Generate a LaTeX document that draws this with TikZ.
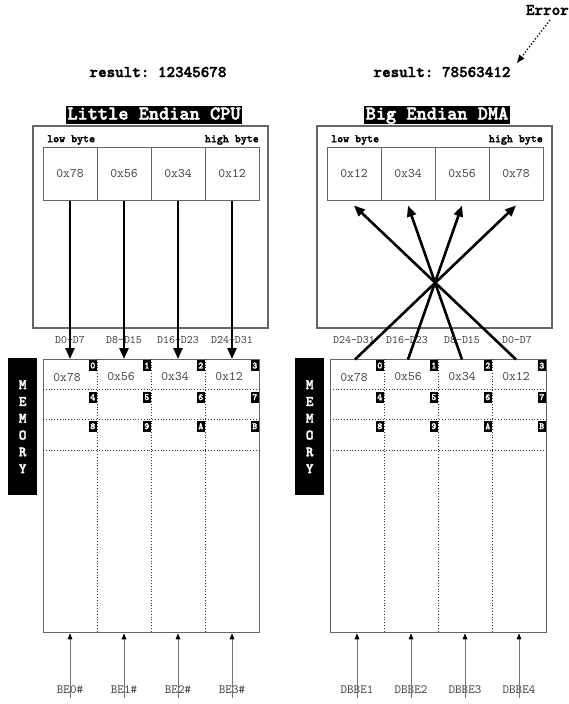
\documentclass[tikz,border=0pt]{standalone}
\usepackage{fontspec}
\setmonofont{lmmono10-regular.otf}[BoldFont=lmmonolt10-bold.otf,BoldFeatures={FakeBold=2.2}]
\usetikzlibrary{arrows.meta}
\definecolor{edge}{gray}{0.4}
\definecolor{txt}{gray}{0.25}
\begin{document}
\begin{tikzpicture}[x=1pt,y=-1pt,font=\ttfamily,
  outer/.style={draw=edge,line width=1.4pt},
  cell/.style={draw=edge,line width=1pt,minimum width=54pt,minimum height=53pt,inner sep=0pt,
    font=\ttfamily\fontsize{13}{13}\selectfont,text=txt},
  title/.style={fill=black,text=white,font=\ttfamily\bfseries\fontsize{19.4}{19.4}\selectfont,
    inner xsep=1.5pt,inner ysep=0pt,text height=12.5pt,text depth=3.5pt,minimum height=18pt},
  result/.style={font=\ttfamily\bfseries\fontsize{16.3}{16.3}\selectfont},
  bytelbl/.style={font=\ttfamily\bfseries\fontsize{11.4}{11.4}\selectfont,inner sep=0pt},
  buslbl/.style={font=\ttfamily\fontsize{11.4}{11.4}\selectfont,text=txt,inner sep=0pt},
  membox/.style={draw=edge,line width=1.3pt,minimum width=216pt,minimum height=273pt,
    inner sep=0pt,anchor=north west},
  memval/.style={font=\ttfamily\fontsize{13}{13}\selectfont,text=txt},
  tag/.style={fill=black,text=white,font=\ttfamily\bfseries\fontsize{9.5}{9.5}\selectfont,
    inner sep=0pt,minimum width=8pt,minimum height=11pt,anchor=north east},
  memlbl/.style={fill=black,text=white,minimum width=29pt,minimum height=137pt,inner sep=0pt,
    anchor=north west,font=\ttfamily\bfseries\fontsize{14.5}{16.8}\selectfont,align=center},
  grid/.style={black!80,line width=0.8pt,dotted},
  bus/.style={line width=2.6pt,-{Triangle[length=11pt,width=9pt]}},
  sig/.style={draw=black!55,line width=1pt,-{Triangle[length=6pt,width=4.5pt,color=black]}},
  siglbl/.style={font=\ttfamily\fontsize{12.5}{12.5}\selectfont,text=txt,inner sep=0pt},
  errarrow/.style={line width=1.3pt,dotted,-{Triangle[length=8pt,width=6pt]}}
]
\useasboundingbox (0,0) rectangle (569,704);

% ---------- top texts ----------
\node[result] (res1) at (158,72) {result: 12345678};
\node[result] (res2) at (442,72) {result: 78563412};
\node[result,anchor=east,inner sep=0pt] (err) at (569,10) {Error};
\coordinate (errstart) at (550,20);
\coordinate (errend) at (517,63);
\draw[errarrow] (errstart) -- (errend);

% ---------- left CPU ----------
\node[title] (t1) at (154,115) {Little Endian CPU};
\draw[outer] (33,126) rectangle (268,328);
\node[bytelbl,anchor=west] (lb1) at (47,140) {low byte};
\node[bytelbl,anchor=east] (hb1) at (259,140) {high byte};
\node[cell] (L0) at (70,173.5) {0x78};
\node[cell] (L1) at (124,173.5) {0x56};
\node[cell] (L2) at (178,173.5) {0x34};
\node[cell] (L3) at (232,173.5) {0x12};

% ---------- right DMA ----------
\node[title] (t2) at (437,115) {Big Endian DMA};
\draw[outer] (317,126) rectangle (552,328);
\node[bytelbl,anchor=west] (lb2) at (331,140) {low byte};
\node[bytelbl,anchor=east] (hb2) at (543,140) {high byte};
\node[cell] (R0) at (354,173.5) {0x12};
\node[cell] (R1) at (408,173.5) {0x34};
\node[cell] (R2) at (462,173.5) {0x56};
\node[cell] (R3) at (516,173.5) {0x78};

% ---------- bus labels ----------
\node[buslbl] (dl0) at (70,340) {D0-D7};
\node[buslbl] (dl1) at (124,340) {D8-D15};
\node[buslbl] (dl2) at (178,340) {D16-D23};
\node[buslbl] (dl3) at (232,340) {D24-D31};
\node[buslbl] (dr0) at (354,340) {D24-D31};
\node[buslbl] (dr1) at (407,340) {D16-D23};
\node[buslbl] (dr2) at (462,340) {D8-D15};
\node[buslbl] (dr3) at (517,340) {D0-D7};

% ---------- memories ----------
\node[membox] (LM) at (43,359) {};
\node[membox] (RM) at (330,359) {};
\foreach \m/\x in {LM/43,RM/330}{
  \foreach \c in {1,2,3}{
    \draw[grid] (\x+54*\c,359) -- (\x+54*\c,632);
  }
  \foreach \yy in {389,419,450}{
    \draw[grid] (\x,\yy) -- (\x+216,\yy);
  }
}
\node[memlbl] (ML) at (8,358) {M\\E\\M\\O\\R\\Y};
\node[memlbl] (MR) at (295,358) {M\\E\\M\\O\\R\\Y};

% memory values
\foreach \v [count=\i from 0] in {0x78,0x56,0x34,0x12}{
  \node[memval] (lv\i) at (67+54*\i,377) {\v};
  \node[memval] (rv\i) at (354+54*\i,377) {\v};
}
% tags
\foreach \t [count=\i from 0] in {0,1,2,3}{
  \node[tag] (lt0\i) at (97+54*\i,359.8) {\t};
  \node[tag] (rt0\i) at (384+54*\i,359.8) {\t};
}
\foreach \t [count=\i from 0] in {4,5,6,7}{
  \node[tag] (lt1\i) at (97+54*\i,391.5) {\t};
  \node[tag] (rt1\i) at (384+54*\i,391.5) {\t};
}
\foreach \t [count=\i from 0] in {8,9,A,B}{
  \node[tag] (lt2\i) at (97+54*\i,420.5) {\t};
  \node[tag] (rt2\i) at (384+54*\i,420.5) {\t};
}

% ---------- left bus arrows ----------
\foreach \i in {0,1,2,3}{
  \draw[bus] (L\i.south) -- (L\i.south |- LM.north);
}

% ---------- right crossing bus ----------
\coordinate (m0) at (355,359.5);
\coordinate (m1) at (408,359.5);
\coordinate (m2) at (462,359.5);
\coordinate (m3) at (516,359.5);
\draw[bus] (m0) -- ([yshift=-5pt]R3.south);
\draw[bus] (m1) -- ([yshift=-5pt]R2.south);
\draw[bus] (m2) -- ([yshift=-5pt]R1.south);
\draw[bus] (m3) -- ([yshift=-5pt]R0.south);

% ---------- byte enables ----------
\foreach \n [count=\i from 0] in {BE0\#,BE1\#,BE2\#,BE3\#}{
  \node[siglbl] (be\i) at (70+54*\i,690) {\n};
  \draw[sig] ([yshift=-12pt]be\i.north) -- (be\i.north |- LM.south);
}
\foreach \n [count=\i from 0] in {DBBE1,DBBE2,DBBE3,DBBE4}{
  \node[siglbl] (dbbe\i) at (357+54*\i,690) {\n};
  \draw[sig] ([yshift=-12pt]dbbe\i.north) -- (dbbe\i.north |- RM.south);
}
\end{tikzpicture}
\end{document}
